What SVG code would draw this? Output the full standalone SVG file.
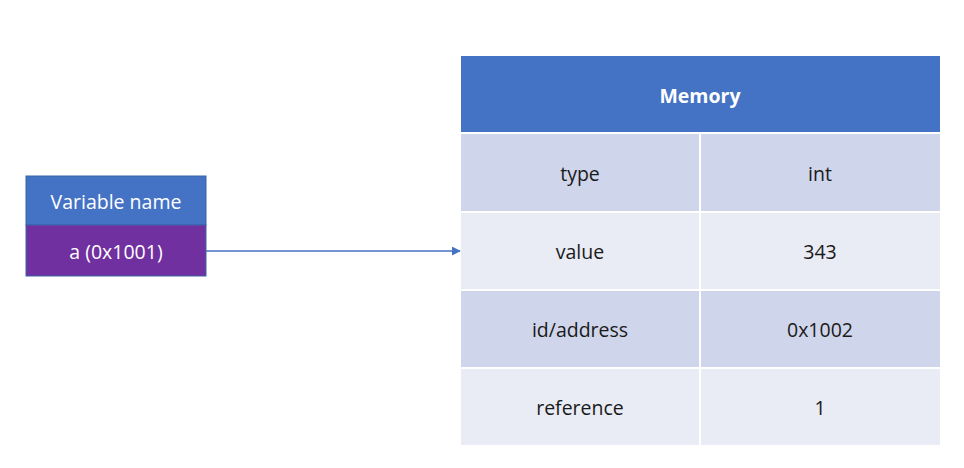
<svg xmlns="http://www.w3.org/2000/svg" width="964" height="468" viewBox="0 0 964 468">
<defs>
<style>
text{font-family:"Open Sans","Liberation Sans",sans-serif;font-size:19.5px;text-anchor:middle;dominant-baseline:central}
.w{fill:#ffffff}
.d{fill:#1a1a1a}
.odd{fill:#CFD5EA}
.even{fill:#E9EBF5}
</style>
<marker id="ah" viewBox="0 0 10 10" refX="9" refY="5" markerWidth="6" markerHeight="6" orient="auto"><path d="M0,0L10,5L0,10z" fill="#4472C4"/></marker>
</defs>
<rect width="964" height="468" fill="#ffffff"/>
<g id="variable">
<rect x="26" y="176" width="180" height="49" fill="#4472C4" stroke="#3A62A8" stroke-width="1"/>
<rect x="26" y="225" width="180" height="51" fill="#7030A0" stroke="#3A62A8" stroke-width="1"/>
<text x="116" y="201" class="w">Variable name</text>
<text x="116" y="251" class="w">a (0x1001)</text>
</g>
<g id="memory">
<rect x="461" y="56" width="479" height="76" fill="#4472C4"/>
<text x="700" y="95" class="w" font-weight="bold">Memory</text>
<rect x="461" y="134" width="238" height="77" class="odd"/>
<rect x="701" y="134" width="239" height="77" class="odd"/>
<rect x="461" y="213" width="238" height="76" class="even"/>
<rect x="701" y="213" width="239" height="76" class="even"/>
<rect x="461" y="291" width="238" height="76" class="odd"/>
<rect x="701" y="291" width="239" height="76" class="odd"/>
<rect x="461" y="369" width="238" height="76" class="even"/>
<rect x="701" y="369" width="239" height="76" class="even"/>
<text x="580" y="173" class="d">type</text>
<text x="820" y="173" class="d">int</text>
<text x="580" y="251" class="d">value</text>
<text x="820" y="251" class="d">343</text>
<text x="580" y="329" class="d">id/address</text>
<text x="820" y="329" class="d">0x1002</text>
<text x="580" y="407" class="d">reference</text>
<text x="820" y="407" class="d">1</text>
</g>
<g id="connectors">
<line x1="206" y1="251" x2="460" y2="251" stroke="#4472C4" stroke-width="1.5" marker-end="url(#ah)"/>
</g>
</svg>
